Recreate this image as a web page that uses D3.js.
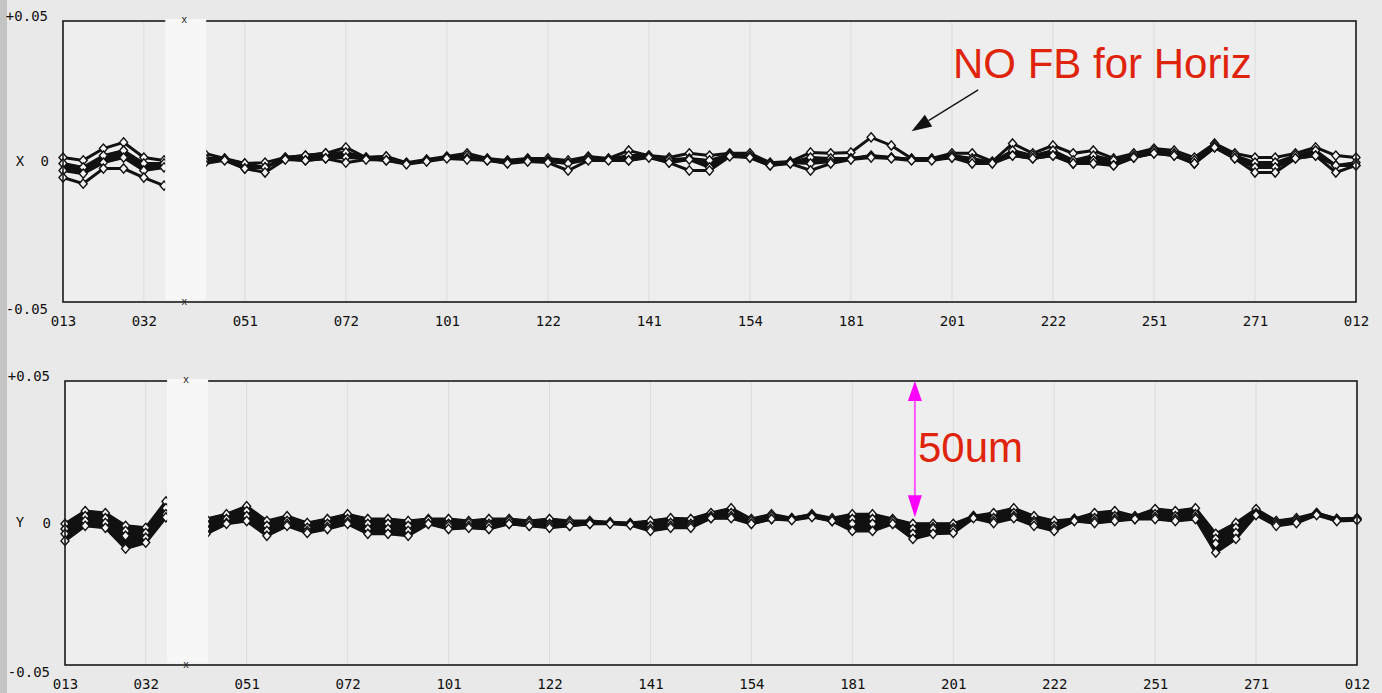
<!DOCTYPE html>
<html><head><meta charset="utf-8">
<script src="https://cdn.jsdelivr.net/npm/d3@7"></script>
<style>html,body{margin:0;padding:0;background:#e9e9e9;overflow:hidden}</style>
</head><body><svg id="c" width="1382" height="693"></svg>
<script>
// BPM names on the x axis and the index of the BPM each label belongs to
const bpmLabels = ["013","032","051","072","101","122","141","154","181","201","222","251","271","012"];
const bpmTickIndex = [0,4,9,14,19,24,29,34,39,44,49,54,59,64];
const bpmCount = 65;
const yTickValues = [50, 0, -50];
const yTickLabels = ["+0.05", "0", "-0.05"];
const maskedBpm = 6;   // blanked-out BPM (white bar)

// Horizontal orbit (um), several overlaid runs
const xRunA = [1.4,0.4,4.6,6.8,1.4,0.4,1.0,2.9,1.1,-0.7, -0.4,1.4,2.1,2.9,5.0,1.4,1.8,-0.4,0.7,1.8, 2.9,1.1,0.4,1.1,1.1,0.4,1.8,1.1,3.9,2.1, 1.4,2.9,2.1,2.9,2.9,-0.4,0,3.2,2.9,3.2, 8.6,5.7,1.1,1.1,2.9,2.9,0,6.4,2.9,5.7, 2.9,3.9,1.1,2.9,4.6,3.9,1.4,6.4,2.9,1.4, 1.4,2.9,5.0,2.1,1.4];
const xRunB = [-0.7,-2.1,2.1,3.9,-0.7,-0.7,-0.5,1.4,0.7,-0.7, -2.1,1.4,2.1,2.9,3.2,1.4,1.8,-0.7,0.4,1.4, 2.1,0.7,0,0.7,0.4,-0.4,1.4,0.7,2.1,2.1, 0.7,1.1,0.4,2.5,2.1,-0.7,-0.4,1.4,1.1,1.1, 2.1,1.4,0.7,0.7,2.1,1.1,-0.4,3.9,2.1,3.9, 0.4,2.1,0.4,2.1,3.9,2.9,0.4,5.7,2.1,-0.4, -0.4,2.1,3.9,-1.4,-0.4];
const xRunC = [-3.2,-4.3,-0.4,1.4,-3.2,-2.1,-2.5,0.4,0.7,-2.5, -2.1,1.1,0.4,1.1,1.4,1.1,0.4,-0.7,0.4,1.4, 1.1,0.4,-0.4,0.4,0,-0.7,0.7,0.7,0.4,1.8, -0.4,0.7,-2.1,2.1,1.4,-1.4,-0.4,-0.7,0,1.1, 1.8,1.4,0.7,0.7,1.4,0.4,-0.4,2.1,1.1,2.1, -0.7,0.4,-1.4,1.4,2.9,2.1,-0.7,5.0,1.1,-2.1, -2.1,1.1,2.1,-1.4,-1.4];
const xRunD = [-5.7,-7.9,-2.5,-2.5,-5.7,-8.6,-10,-0.7,0.4,-2.5, -3.9,0.7,0.4,1.1,-0.4,0.7,0.4,-1.0,0,1.1, 0.7,0.4,-0.7,0,-0.4,-3.2,0.4,0.4,0.4,1.4, -0.4,-3.2,-3.2,1.8,1.4,-1.4,-0.7,-3.2,-0.7,0.7, 1.4,1.1,0.4,0.4,1.4,-0.7,-0.7,2.1,1.1,2.1, -0.7,-0.7,-1.4,1.4,2.9,2.1,-0.7,5.0,1.1,-3.9, -3.9,1.1,2.1,-3.9,-1.4];

// Vertical orbit (um)
const yRunA = [-0.3,4.2,3.5,-1.0,-1.7,7.6,9.4,1.4,3.1,5.9, 0.7,2.4,0,1.4,3.1,1.4,1.4,0.7,1.4,1.4, 0.7,1.4,1.4,0.7,1.4,0.7,0.7,0.3,0,0.7, 1.7,1.4,3.5,5.2,1.4,3.1,1.7,3.1,1.7,3.1, 3.1,1.4,-0.3,-0.3,-0.3,2.4,3.5,5.2,2.4,0.7, 1.4,3.5,4.2,2.4,4.9,4.2,5.2,-3.8,0,4.9, 0.7,1.7,3.5,1.4,1.7];
const yRunB = [-2.1,2.4,1.7,-2.8,-3.5,5.2,7.6,-0.3,1.4,4.2, -1.0,0.7,-1.7,-0.3,1.4,-0.3,-0.3,-1.0,1.0,-0.3, 0,-0.3,0.7,0,-0.3,0,0.3,0,-0.3,-1.0, 0,-0.3,2.4,3.5,0.7,2.4,1.7,2.8,1.0,1.4, 1.4,0.7,-2.1,-1.4,-1.7,2.4,1.7,3.5,0.7,-1.0, 1.4,1.7,2.4,2.1,3.1,2.4,3.1,-5.6,-1.7,3.5, 0,1.0,3.5,1.4,1.4];
const yRunC = [-3.8,0.7,0,-4.5,-5.2,3.1,5.9,-2.1,0,2.4, -2.8,-0.3,-2.8,-1.4,0.3,-2.1,-2.1,-2.8,-0.3,-1.0, -1.0,-1.0,-0.3,-1.0,-1.0,-1.0,-0.3,0,-0.3,-2.1, -1.0,-1.0,1.7,2.4,-0.3,1.4,1.4,2.4,0.7,-0.3, -0.3,-0.3,-3.8,-2.1,-2.4,2.1,0.7,2.4,0,-2.1, 1.0,0.7,1.4,1.4,2.1,1.4,2.1,-7.3,-3.5,3.1, -0.3,0.3,3.1,1.0,1.4];
const yRunD = [-6.3,-1.0,-1.7,-9.0,-6.9,2.0,4.2,-3.8,-0.3,0.7, -4.5,-1.0,-3.5,-2.1,-0.3,-3.8,-3.8,-4.5,-0.3,-2.1, -1.7,-2.1,-0.3,-1.0,-1.7,-1.0,-0.3,-0.3,-0.7,-2.8, -1.7,-1.7,1.7,1.7,-0.3,1.4,1.0,2.1,0.7,-2.8, -2.8,-0.3,-5.6,-3.8,-3.5,1.7,0,1.7,-1.0,-2.8, 0.7,0,0.7,1.4,1.4,0.7,1.4,-10.4,-5.6,2.8, -1.0,0,2.8,0.7,1.0];

const svg = d3.select("#c");
svg.append("rect").attr("x",0).attr("y",0).attr("width",1382).attr("height",693).attr("fill","#e9e9e9");
svg.append("rect").attr("x",0).attr("y",0).attr("width",7).attr("height",693).attr("fill","#c4c4c4");

const panels = [
  {name:"X", runs:[xRunA,xRunB,xRunC,xRunD], left:63, right:1356, top:21, bottom:302, fillPair:[1,2], labelY:323},
  {name:"Y", runs:[yRunA,yRunB,yRunC,yRunD], left:65, right:1357, top:381, bottom:665, fillPair:[0,3], labelY:686}
];

const mono = "'DejaVu Sans Mono', 'Liberation Mono', monospace";
const diamond = "M0,-4.6 L4,0 L0,4.6 L-4,0 Z";

panels.forEach(p => {
  const x = d3.scaleLinear().domain([0, bpmCount-1]).range([p.left, p.right]);
  const y = d3.scaleLinear().domain([-50, 50]).range([p.bottom, p.top]);
  p.x = x; p.y = y;
  const g = svg.append("g");
  g.append("rect").attr("x",p.left).attr("y",p.top).attr("width",p.right-p.left).attr("height",p.bottom-p.top).attr("fill","#eeeeee");
  g.selectAll("line.grid").data(bpmTickIndex.slice(1,-1)).join("line")
    .attr("x1",d=>x(d)).attr("x2",d=>x(d)).attr("y1",p.top).attr("y2",p.bottom)
    .attr("stroke","#dcdcdc").attr("stroke-width",1);
  const idx = d3.range(bpmCount);
  const [a,b] = p.fillPair;
  g.append("path").datum(idx)
    .attr("d", d3.area().x(i=>x(i)).y0(i=>y(p.runs[a][i])).y1(i=>y(p.runs[b][i])))
    .attr("fill","#111").attr("stroke","#111").attr("stroke-width",2);
  const line = d3.line().x((d,i)=>x(i)).y(d=>y(d));
  p.runs.forEach(r => {
    g.append("path").datum(r).attr("d", line).attr("fill","none").attr("stroke","#111").attr("stroke-width",3);
  });
  p.runs.forEach(r => {
    g.selectAll(null).data(r).join("path")
      .attr("transform",(d,i)=>`translate(${x(i)},${y(d)})`)
      .attr("d",diamond).attr("fill","#f4f4f4").attr("stroke","#111").attr("stroke-width",1.4);
  });
  g.append("rect").attr("x",p.left).attr("y",p.top).attr("width",p.right-p.left).attr("height",p.bottom-p.top)
    .attr("fill","none").attr("stroke","#1a1a1a").attr("stroke-width",1.6);
  g.append("rect").attr("x",x(maskedBpm)-19).attr("y",p.top-2).attr("width",41).attr("height",p.bottom-p.top+0.5)
    .attr("fill","#f7f7f7");
  [p.top-1, p.bottom].forEach(yy => {
    g.append("text").attr("x",x(maskedBpm)).attr("y",yy).attr("dy","0.32em").attr("text-anchor","middle")
      .attr("font-family",mono).attr("font-size",10).attr("fill","#222").text("x");
  });
  const ax = d3.axisBottom(x).tickValues(bpmTickIndex).tickFormat((d,i)=>bpmLabels[i]).tickSize(0);
  const axg = svg.append("g").attr("transform",`translate(0,${p.labelY-8})`).call(ax);
  axg.select(".domain").remove();
  axg.selectAll("text").attr("font-family",mono).attr("font-size",14).attr("fill","#111").attr("dy","0.6em");
  const ay = d3.axisLeft(y).tickValues(yTickValues).tickFormat((d,i)=>yTickLabels[i]).tickSize(0);
  const ayg = svg.append("g").attr("transform",`translate(${p.left-14},0)`).call(ay);
  ayg.select(".domain").remove();
  ayg.selectAll("text").attr("font-family",mono).attr("font-size",14).attr("fill","#111")
    .attr("x",(d)=> d===0 ? 0 : -1)
    .attr("dy",(d)=> d===50 ? "-0.05em" : (d===-50 ? "0.85em" : "0.32em"));
  svg.append("text").attr("x",20).attr("y",y(0)).attr("dy","0.32em").attr("text-anchor","middle")
    .attr("font-family",mono).attr("font-size",14).attr("fill","#111").text(p.name);
});

const red = "#e0240c";
const P0 = panels[0], P1 = panels[1];
svg.append("text").attr("x",953).attr("y",78).attr("font-family","'Liberation Sans', Arial, sans-serif")
  .attr("font-size",42).attr("fill",red).text("NO FB for Horiz");
{
  const x1 = P0.x(45.3), y1 = P0.y(25.5), x2 = P0.x(42.0), y2 = P0.y(10.8);
  const ang = Math.atan2(y2-y1, x2-x1), L = 20, W = 7;
  const bx = x2 - L*Math.cos(ang), by = y2 - L*Math.sin(ang);
  svg.append("line").attr("x1",x1).attr("y1",y1).attr("x2",bx).attr("y2",by).attr("stroke","#111").attr("stroke-width",1.3);
  svg.append("path").attr("d",`M${x2},${y2} L${bx - W*Math.sin(ang)},${by + W*Math.cos(ang)} L${bx + W*Math.sin(ang)},${by - W*Math.cos(ang)} Z`).attr("fill","#111");
}
{
  const ax = P1.x(42.1), yTop = P1.y(50), yBot = P1.y(2);
  const mag = "#ff00ff";
  svg.append("line").attr("x1",ax).attr("x2",ax).attr("y1",yTop+18).attr("y2",yBot-18).attr("stroke","#ff55ff").attr("stroke-width",2);
  svg.append("path").attr("d",`M${ax},${yTop} L${ax-7},${yTop+20} L${ax+7},${yTop+20} Z`).attr("fill",mag);
  svg.append("path").attr("d",`M${ax},${yBot} L${ax-7},${yBot-22} L${ax+7},${yBot-22} Z`).attr("fill",mag);
  svg.append("text").attr("x",918).attr("y",462).attr("font-family","'Liberation Sans', Arial, sans-serif")
    .attr("font-size",42).attr("fill",red).text("50um");
}
</script></body></html>
